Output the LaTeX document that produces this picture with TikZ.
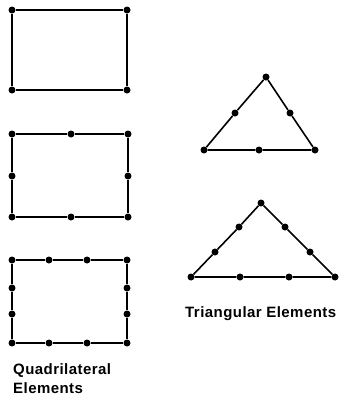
\documentclass[tikz,border=0pt]{standalone}
\usepackage{fontspec}
\newfontfamily\labelfont{Liberation Sans}[LetterSpace=3]
\tikzset{
  nodept/.style={circle, fill, inner sep=0pt, minimum size=7pt},
  elemline/.style={line width=1.6pt},
  caption/.style={font=\labelfont\bfseries\fontsize{15}{19}\selectfont, inner sep=0pt, align=left}
}
\begin{document}
\begin{tikzpicture}[x=1pt, y=-1pt]
\useasboundingbox (0,0) rectangle (342,402);
% four-node quadrilateral
\node[nodept] (a1) at (12,10) {};
\node[nodept] (a2) at (127,10) {};
\node[nodept] (a3) at (127,90) {};
\node[nodept] (a4) at (12,90) {};
\draw[elemline] (a1) -- (a2) -- (a3) -- (a4) -- (a1);
% eight-node quadrilateral
\node[nodept] (b1) at (12,134) {};
\node[nodept] (b2) at (71,134) {};
\node[nodept] (b3) at (128,134) {};
\node[nodept] (b4) at (128,176) {};
\node[nodept] (b5) at (128,217) {};
\node[nodept] (b6) at (71,217) {};
\node[nodept] (b7) at (12,217) {};
\node[nodept] (b8) at (12,176) {};
\draw[elemline] (b1) -- (b2) -- (b3) -- (b4) -- (b5) -- (b6) -- (b7) -- (b8) -- (b1);
% twelve-node quadrilateral
\node[nodept] (c1) at (12,260) {};
\node[nodept] (c2) at (49,260) {};
\node[nodept] (c3) at (87,260) {};
\node[nodept] (c4) at (127,260) {};
\node[nodept] (c5) at (127,288) {};
\node[nodept] (c6) at (127,314) {};
\node[nodept] (c7) at (127,343) {};
\node[nodept] (c8) at (87,343) {};
\node[nodept] (c9) at (49,343) {};
\node[nodept] (c10) at (12,343) {};
\node[nodept] (c11) at (12,314) {};
\node[nodept] (c12) at (12,288) {};
\draw[elemline] (c1) -- (c2) -- (c3) -- (c4) -- (c5) -- (c6) -- (c7) -- (c8) -- (c9) -- (c10) -- (c11) -- (c12) -- (c1);
% six-node triangle
\node[nodept] (t1) at (266,77) {};
\node[nodept] (t2) at (290,113) {};
\node[nodept] (t3) at (315,150) {};
\node[nodept] (t4) at (259,150) {};
\node[nodept] (t5) at (204,150) {};
\node[nodept] (t6) at (235,113) {};
\draw[elemline] (t1) -- (t2) -- (t3) -- (t4) -- (t5) -- (t6) -- (t1);
% ten-node triangle
\node[nodept] (u1) at (261,203) {};
\node[nodept] (u2) at (285,227) {};
\node[nodept] (u3) at (310,252) {};
\node[nodept] (u4) at (335,277) {};
\node[nodept] (u5) at (289,277) {};
\node[nodept] (u6) at (240,277) {};
\node[nodept] (u7) at (191,277) {};
\node[nodept] (u8) at (215,252) {};
\node[nodept] (u9) at (239,227) {};
\draw[elemline] (u1) -- (u2) -- (u3) -- (u4) -- (u5) -- (u6) -- (u7) -- (u8) -- (u9) -- (u1);
% captions
\node[caption, anchor=base west] (tri) at (185,317) {Triangular Elements};
\node[caption, anchor=north west] (quad) at (13,363) {Quadrilateral\\Elements};
\end{tikzpicture}
\end{document}
